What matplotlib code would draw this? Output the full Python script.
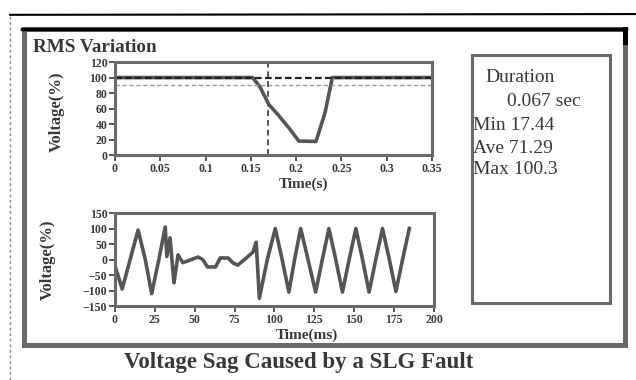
import numpy as np
import matplotlib.pyplot as plt
from matplotlib.patches import Rectangle
from matplotlib.lines import Line2D

plt.rcParams['font.family'] = ['Liberation Serif', 'DejaVu Serif']

# RMS variation (top panel), time in s, voltage in %
t_rms   = [0, 0.152, 0.160, 0.170, 0.180, 0.192, 0.203, 0.222, 0.232, 0.240, 0.35]
v_rms   = [100, 100, 88, 65, 52, 35, 18, 17.44, 55, 100, 100]
v_ref   = 100    # nominal
v_thr   = 90     # sag threshold
t_start = 0.169  # sag start marker

# instantaneous waveform (bottom panel), time in ms
t_wave = [0, 4.5, 9.5, 14.5, 19, 23, 27.5, 31.5, 32.5, 34.5, 37, 39.5, 42.5,
          48, 52, 55, 58, 63, 66, 71, 74, 77, 83, 86.5, 88.5, 90.5, 95.5,
          100.5, 104.8, 109, 112.6, 116.4, 121, 125.8, 130, 134.1, 138.4,
          142.6, 146.8, 151, 155.2, 159.3, 163.5, 167.7, 172, 176.1, 180.3, 184.5]
v_wave = [-20, -95, 0, 95, 0, -110, 0, 105, 10, 70, -75, 15, -10,
          0, 8, 0, -24, -24, 5, 5, -11, -18, 8, 24, 56, -125, 0,
          100, 0, -105, 0, 100, 0, -105, 0, 100, 0,
          -105, 0, 100, 0, -105, 0, 100, 0, -103, 0, 100]

duration = 0.067
v_min    = 17.44
v_ave    = 71.29
v_max    = 100.3

top_ticks = [0, 0.05, 0.1, 0.15, 0.2, 0.25, 0.3, 0.35]
top_labels = ['0', '0.05', '0.1', '0.15', '0.2', '0.25', '0.3', '0.35']
bot_ticks = [0, 25, 50, 75, 100, 125, 150, 175, 200]

ink   = '#383838'
line  = '#555555'
frame = '#6a6a6a'

fig = plt.figure(figsize=(6.36, 3.8), dpi=100)

# outer frame and scan edges
fig.add_artist(Rectangle((0.037, 0.092), 0.945, 0.833, transform=fig.transFigure,
                         fill=False, ec=frame, lw=3.6))
fig.add_artist(Line2D([0.034, 0.985], [0.925, 0.925], transform=fig.transFigure, color='black', lw=2.5))
fig.add_artist(Line2D([0.982, 0.982], [0.925, 0.89], transform=fig.transFigure, color='black', lw=3.6))
fig.add_artist(Line2D([0.016, 1.0], [0.961, 0.963], transform=fig.transFigure, color='black', lw=1.5))
fig.add_artist(Line2D([0.016, 0.016], [0.0, 0.961], transform=fig.transFigure, color='#888888', lw=1.0, ls=(0, (2, 2))))

# duration box
fig.add_artist(Rectangle((0.742, 0.203), 0.217, 0.652, transform=fig.transFigure,
                         fill=False, ec=frame, lw=2.2))
fs_box = 14
fig.text(0.7626, 0.797, 'Duration', fontsize=fs_box, color=ink, va='center')
fig.text(0.797, 0.734, '{:.3f} sec'.format(duration), fontsize=fs_box, color=ink, va='center')
fig.text(0.744, 0.671, 'Min {}'.format(v_min), fontsize=fs_box, color=ink, va='center')
fig.text(0.744, 0.6105, 'Ave {}'.format(v_ave), fontsize=fs_box, color=ink, va='center')
fig.text(0.744, 0.553, 'Max {}'.format(v_max), fontsize=fs_box, color=ink, va='center')

fig.text(0.052, 0.874, 'RMS Variation', fontsize=13.8, fontweight='bold', color=ink, va='center')
fig.text(0.469, 0.047, 'Voltage Sag Caused by a SLG Fault', fontsize=16.5, fontweight='bold',
         color=ink, ha='center', va='center')


def style(ax):
    for s in ax.spines.values():
        s.set_color(frame)
        s.set_linewidth(2.2)
    ax.tick_params(colors=ink, labelsize=8.5, width=1.2, length=4, pad=1.5)
    for lab in ax.get_xticklabels() + ax.get_yticklabels():
        lab.set_fontweight('bold')


# top panel
ax1 = fig.add_axes([0.1808, 0.5921, 0.4984, 0.2447])
ax1.plot(t_rms, v_rms, color=line, lw=2.6, solid_joinstyle='round')
ax1.axhline(v_ref, color='#222222', lw=1.6, ls=(0, (3, 1.5)))
ax1.axhline(v_thr, color='#9a9a9a', lw=1.0, ls=(0, (3, 2)))
ax1.axvline(t_start, color='#555555', lw=1.4, ls=(0, (3, 2)))
ax1.set_xlim(0, 0.35)
ax1.set_ylim(0, 120)
ax1.set_xticks(top_ticks)
ax1.set_xticklabels(top_labels)
ax1.set_yticks(np.arange(0, 121, 20))
style(ax1)
ax1.text(0.596, -0.32, 'Time(s)', transform=ax1.transAxes, ha='center', va='center',
         fontsize=11, fontweight='bold', color=ink)
fig.text(0.09, 0.705, 'Voltage(%)', rotation=90, ha='center', va='center',
         fontsize=12, fontweight='bold', color=ink)

# bottom panel
ax2 = fig.add_axes([0.1808, 0.1947, 0.5016, 0.2447])
ax2.plot(t_wave, v_wave, color=line, lw=2.6, solid_joinstyle='round')
ax2.set_xlim(0, 200)
ax2.set_ylim(-150, 150)
ax2.set_xticks(bot_ticks)
ax2.set_yticks(np.arange(-150, 151, 50))
style(ax2)
ax2.text(0.603, -0.31, 'Time(ms)', transform=ax2.transAxes, ha='center', va='center',
         fontsize=11, fontweight='bold', color=ink)
fig.text(0.075, 0.316, 'Voltage(%)', rotation=90, ha='center', va='center',
         fontsize=12, fontweight='bold', color=ink)

plt.savefig('out.png', dpi=100)
